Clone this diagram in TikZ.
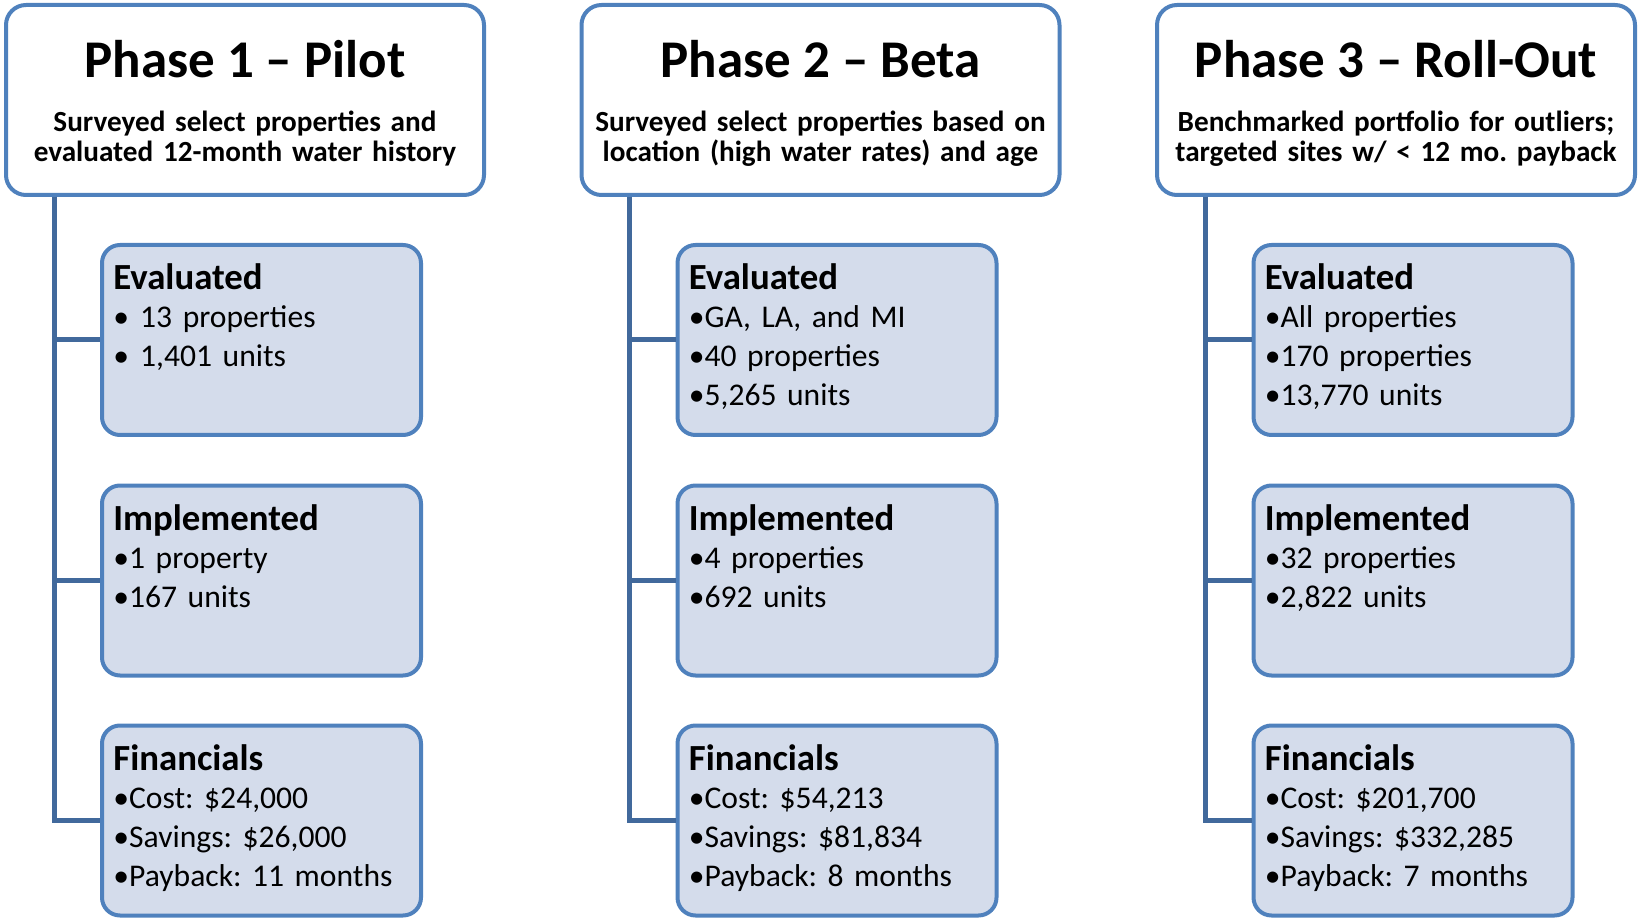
\documentclass[tikz,border=0pt]{standalone}
\usepackage{fontspec}
\setmainfont{Carlito}
\frenchspacing

\definecolor{phaseblue}{HTML}{4F81BD}
\definecolor{trunkblue}{HTML}{41699C}
\definecolor{stagefill}{HTML}{D4DCEB}

\tikzset{
  phasebox/.style={draw=phaseblue, line width=2pt, rounded corners=10pt, fill=white,
    minimum width=239pt, minimum height=95pt, inner sep=0pt},
  stagebox/.style={draw=phaseblue, line width=2pt, rounded corners=9pt, fill=stagefill,
    minimum width=159.5pt, minimum height=95pt, inner sep=0pt},
  trunk/.style={draw=trunkblue, line width=2.5pt},
  phasetitle/.style={font=\fontsize{26.5}{30}\selectfont\bfseries, inner sep=0pt, anchor=base},
  phasenote/.style={font=\fontsize{14.6}{15}\selectfont\bfseries, align=center,
    text width=236pt, inner sep=0pt, anchor=base},
  stagehead/.style={font=\fontsize{18.4}{20}\selectfont\bfseries, inner sep=0pt, anchor=base west},
  stageitems/.style={font=\fontsize{15.8}{19.4}\selectfont, align=left,
    text width=150pt, inner sep=0pt, anchor=base west}
}

\begin{document}
\begin{tikzpicture}[x=0.5pt, y=-0.5pt]
    \useasboundingbox (0,0) rectangle (1638,919);

    % phase 1
    \node[phasebox] (p1) at (245,100) {};
    \node[phasetitle] (p1title) at ([shift={(0,75)}]p1.north) {Phase 1 -- Pilot};
    \node[phasenote] (p1note) at ([shift={(0,129)}]p1.north)
      {Surveyed select properties and\\evaluated 12-month water history};

    \node[stagebox] (p1eval) at (261.5,340) {};
    \node[stagebox] (p1impl) at (261.5,580.5) {};
    \node[stagebox] (p1fin)  at (261.5,820.5) {};

    \node[stagehead] (p1evalh) at ([shift={(13,47)}]p1eval.north west) {Evaluated};
    \node[stageitems] (p1evali) at ([shift={(13,85)}]p1eval.north west)
      {•\hspace{0.35em}13 properties\\•\hspace{0.35em}1,401 units};
    \node[stagehead] (p1implh) at ([shift={(13,47)}]p1impl.north west) {Implemented};
    \node[stageitems] (p1impli) at ([shift={(13,85)}]p1impl.north west)
      {•1 property\\•167 units};
    \node[stagehead] (p1finh) at ([shift={(13,47)}]p1fin.north west) {Financials};
    \node[stageitems] (p1fini) at ([shift={(13,85)}]p1fin.north west)
      {•Cost: \$24,000\\•Savings: \$26,000\\•Payback: 11 months};

    \coordinate (p1stem) at (54,197);
    \draw[trunk] (p1stem) |- (p1eval.west);
    \draw[trunk] (p1stem) |- (p1impl.west);
    \draw[trunk] (p1stem) |- (p1fin.west);

    % phase 2
    \node[phasebox] (p2) at (820.5,100) {};
    \node[phasetitle] (p2title) at ([shift={(0,75)}]p2.north) {Phase 2 -- Beta};
    \node[phasenote] (p2note) at ([shift={(0,129)}]p2.north)
      {Surveyed select properties based on\\location (high water rates) and age};

    \node[stagebox] (p2eval) at (837,340) {};
    \node[stagebox] (p2impl) at (837,580.5) {};
    \node[stagebox] (p2fin)  at (837,820.5) {};

    \node[stagehead] (p2evalh) at ([shift={(13,47)}]p2eval.north west) {Evaluated};
    \node[stageitems] (p2evali) at ([shift={(13,85)}]p2eval.north west)
      {•GA, LA, and MI\\•40 properties\\•5,265 units};
    \node[stagehead] (p2implh) at ([shift={(13,47)}]p2impl.north west) {Implemented};
    \node[stageitems] (p2impli) at ([shift={(13,85)}]p2impl.north west)
      {•4 properties\\•692 units};
    \node[stagehead] (p2finh) at ([shift={(13,47)}]p2fin.north west) {Financials};
    \node[stageitems] (p2fini) at ([shift={(13,85)}]p2fin.north west)
      {•Cost: \$54,213\\•Savings: \$81,834\\•Payback: 8 months};

    \coordinate (p2stem) at (629.5,197);
    \draw[trunk] (p2stem) |- (p2eval.west);
    \draw[trunk] (p2stem) |- (p2impl.west);
    \draw[trunk] (p2stem) |- (p2fin.west);

    % phase 3
    \node[phasebox] (p3) at (1396,100) {};
    \node[phasetitle] (p3title) at ([shift={(0,75)}]p3.north) {Phase 3 -- Roll-Out};
    \node[phasenote] (p3note) at ([shift={(0,129)}]p3.north)
      {Benchmarked portfolio for outliers;\\targeted sites w/ < 12 mo. payback};

    \node[stagebox] (p3eval) at (1413,340) {};
    \node[stagebox] (p3impl) at (1413,580.5) {};
    \node[stagebox] (p3fin)  at (1413,820.5) {};

    \node[stagehead] (p3evalh) at ([shift={(13,47)}]p3eval.north west) {Evaluated};
    \node[stageitems] (p3evali) at ([shift={(13,85)}]p3eval.north west)
      {•All properties\\•170 properties\\•13,770 units};
    \node[stagehead] (p3implh) at ([shift={(13,47)}]p3impl.north west) {Implemented};
    \node[stageitems] (p3impli) at ([shift={(13,85)}]p3impl.north west)
      {•32 properties\\•2,822 units};
    \node[stagehead] (p3finh) at ([shift={(13,47)}]p3fin.north west) {Financials};
    \node[stageitems] (p3fini) at ([shift={(13,85)}]p3fin.north west)
      {•Cost: \$201,700\\•Savings: \$332,285\\•Payback: 7 months};

    \coordinate (p3stem) at (1205,197);
    \draw[trunk] (p3stem) |- (p3eval.west);
    \draw[trunk] (p3stem) |- (p3impl.west);
    \draw[trunk] (p3stem) |- (p3fin.west);
\end{tikzpicture}
\end{document}
